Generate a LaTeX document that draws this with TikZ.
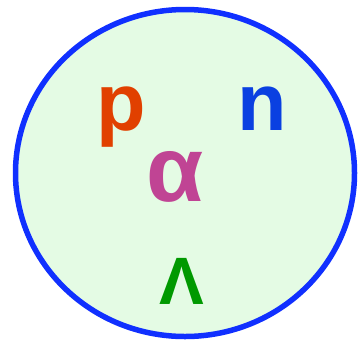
\documentclass[tikz,border=0pt]{standalone}
\usepackage{fontspec}
\setmainfont{Liberation Sans}
\usepackage{xcolor}
\usetikzlibrary{positioning}
\definecolor{ringblue}{RGB}{16,48,255}
\definecolor{ringfill}{RGB}{228,251,228}
\definecolor{protonred}{RGB}{225,64,0}
\definecolor{neutronblue}{RGB}{10,64,225}
\definecolor{alphapink}{RGB}{192,68,148}
\definecolor{lambdagreen}{RGB}{0,153,0}

\begin{document}
\begin{tikzpicture}[x=1pt, y=-1pt, particle/.style={anchor=base, inner sep=0pt, font=\bfseries}]
\useasboundingbox (0,0) rectangle (358,341);
% nucleus
\draw[ringblue, fill=ringfill, line width=5.5pt] (185,173) ellipse [x radius=169.5, y radius=163.5];
\node[particle, text=protonred, font=\bfseries\fontsize{81}{81}\selectfont] (proton) at (121.5,130) {p};
\node[particle, text=neutronblue, font=\bfseries\fontsize{81}{81}\selectfont] (neutron) at (262,130) {n};
\node[particle, text=alphapink, font=\bfseries\fontsize{93}{93}\selectfont] (alpha) at (175,201) {α};
\node[particle, text=lambdagreen, font=\bfseries\fontsize{67}{67}\selectfont] (lambda) at (182,304) {Λ};
\end{tikzpicture}
\end{document}
